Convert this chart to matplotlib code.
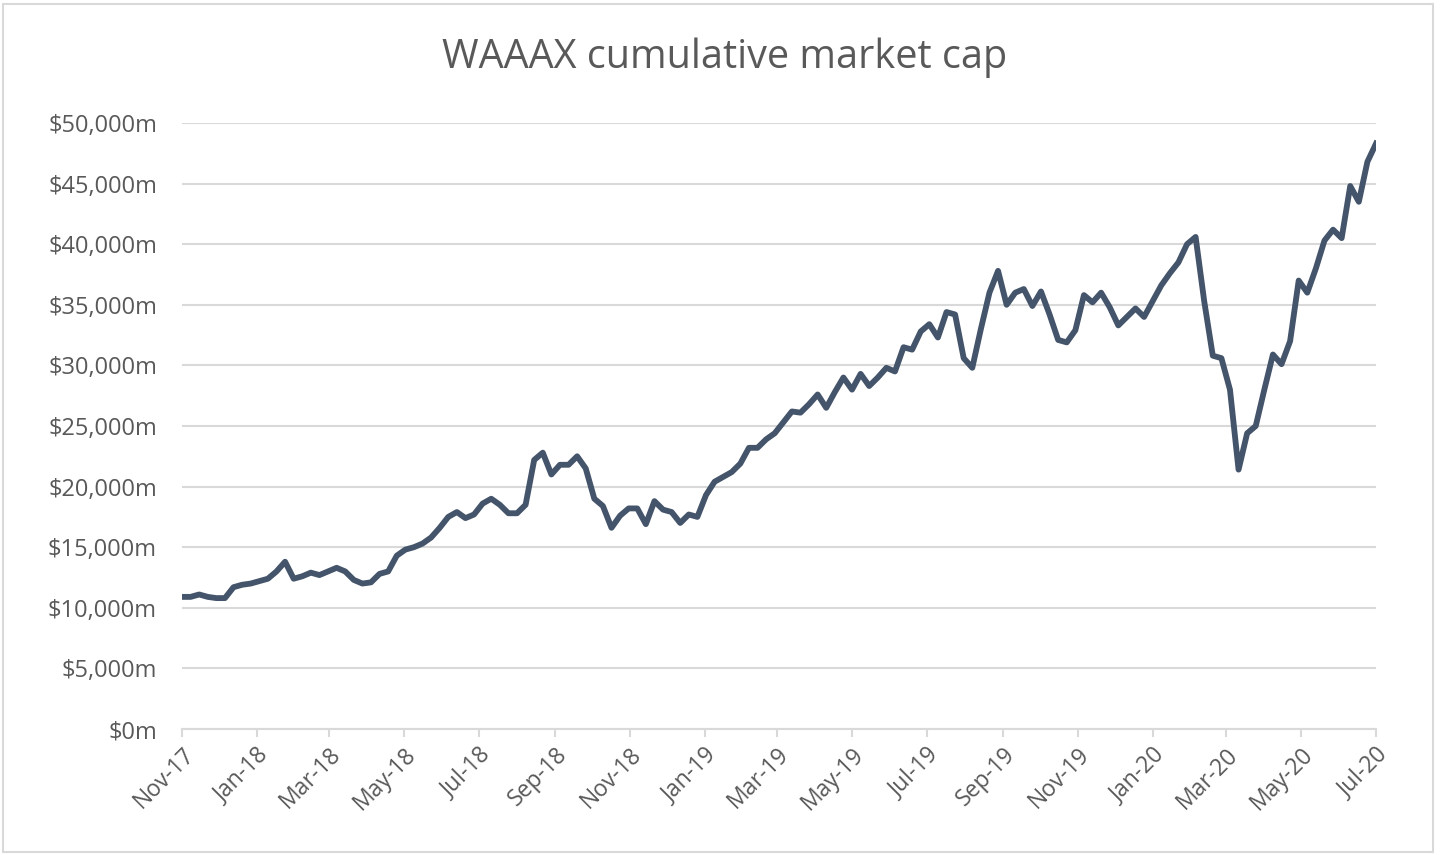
import matplotlib
matplotlib.use("Agg")
import matplotlib.pyplot as plt
import matplotlib.dates as mdates
import matplotlib.ticker as mticker
import pandas as pd
from matplotlib.patches import Rectangle

title = "WAAAX cumulative market cap"
start_date = "2017-11-01"
# weekly cumulative market cap, $ thousand million
values_k = [
    10.9, 10.9, 11.1, 10.9, 10.8, 10.8, 11.7, 11.9, 12.0, 12.2,
    12.4, 13.0, 13.8, 12.4, 12.6, 12.9, 12.7, 13.0, 13.3, 13.0,
    12.3, 12.0, 12.1, 12.8, 13.0, 14.3, 14.8, 15.0, 15.3, 15.8,
    16.6, 17.5, 17.9, 17.4, 17.7, 18.6, 19.0, 18.5, 17.8, 17.8,
    18.5, 22.2, 22.8, 21.0, 21.8, 21.8, 22.5, 21.5, 19.0, 18.4,
    16.6, 17.6, 18.2, 18.2, 16.9, 18.8, 18.1, 17.9, 17.0, 17.7,
    17.5, 19.3, 20.4, 20.8, 21.2, 21.9, 23.2, 23.2, 23.9, 24.4,
    25.3, 26.2, 26.1, 26.8, 27.6, 26.5, 27.8, 29.0, 28.0, 29.3,
    28.3, 29.0, 29.8, 29.5, 31.5, 31.3, 32.8, 33.4, 32.3, 34.4,
    34.2, 30.6, 29.8, 33.0, 36.0, 37.8, 35.0, 36.0, 36.3, 34.9,
    36.1, 34.2, 32.1, 31.9, 32.9, 35.8, 35.2, 36.0, 34.8, 33.3,
    34.0, 34.7, 34.0, 35.3, 36.6, 37.6, 38.5, 40.0, 40.6, 35.3,
    30.8, 30.6, 28.0, 21.4, 24.4, 25.0, 28.0, 30.9, 30.1, 32.0,
    37.0, 36.0, 38.0, 40.3, 41.2, 40.5, 44.8, 43.5, 46.8, 48.3,
]
values_m = [v * 1000 for v in values_k]
dates = pd.date_range(start_date, periods=len(values_m), freq="7D")
y_ticks = list(range(0, 50001, 5000))
tick_dates = pd.date_range("2017-11-01", "2020-07-01", freq="2MS")

plt.rcParams['font.family'] = ['Open Sans', 'DejaVu Sans']

fig = plt.figure(figsize=(14.45, 8.55), dpi=100)
ax = fig.add_axes([182 / 1445, 1 - 729 / 855, (1376 - 182) / 1445, (729 - 123) / 855])

ax.plot(dates, values_m, color="#44546a", lw=4.2, solid_joinstyle="round")

ax.set_ylim(0, 50000)
ax.set_yticks(y_ticks)
ax.yaxis.set_major_formatter(mticker.FuncFormatter(lambda v, p: "${:,.0f}m".format(v)))
ax.set_xlim(pd.Timestamp("2017-11-01"), pd.Timestamp("2020-07-01"))
ax.set_xticks(tick_dates)
ax.xaxis.set_major_formatter(mdates.DateFormatter("%b-%y"))

ax.grid(axis="y", color="#d9d9d9", lw=1.5)
ax.set_axisbelow(True)
for s in ["top", "right", "left"]:
    ax.spines[s].set_visible(False)
ax.spines["bottom"].set_color("#d9d9d9")
ax.spines["bottom"].set_linewidth(1.5)
ax.tick_params(axis="y", length=0, labelsize=17, labelcolor="#595959", pad=18)
ax.tick_params(axis="x", length=6, width=1.5, color="#d9d9d9", labelsize=16.5,
               labelcolor="#595959", pad=4)
for lab in ax.get_xticklabels():
    lab.set_rotation(45)
    lab.set_ha("right")
    lab.set_rotation_mode("anchor")

fig.text(725 / 1445, 1 - 58 / 855, title, ha="center", va="center",
         fontsize=28.5, color="#595959")

fig.patches.append(Rectangle((3 / 1445, 3 / 855), 1430 / 1445, 848 / 855,
                             transform=fig.transFigure, fill=False,
                             edgecolor="#d9d9d9", lw=1.5))

fig.savefig("out.png", dpi=100)
